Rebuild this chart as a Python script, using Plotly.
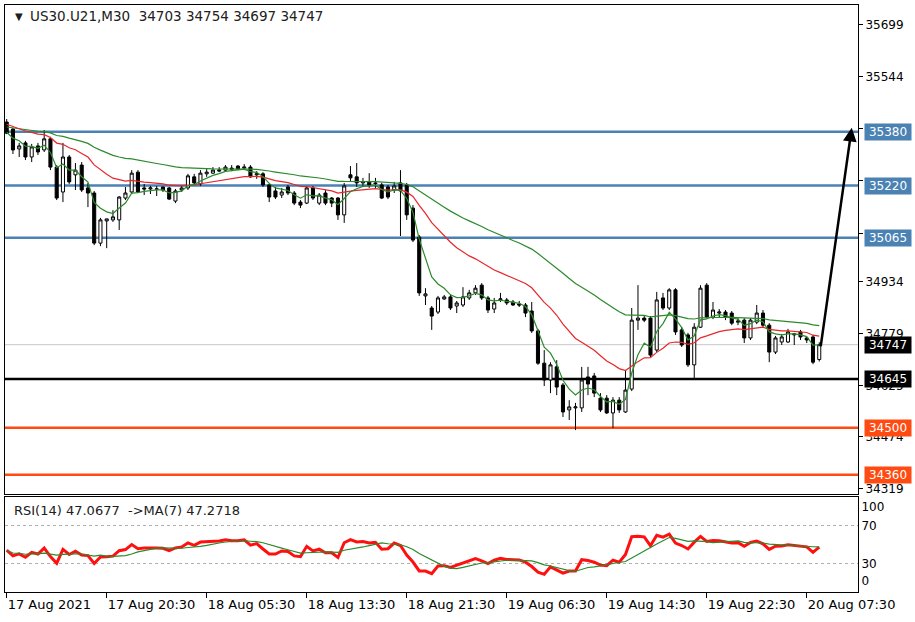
import plotly.graph_objects as go

# ---------------- data (US30.U21, M30) ----------------
opens = [35409,35388,35329,35347,35305,35338,35326,35359,35275,35201,
         35305,35252,35281,35213,35198,35049,35115,35118,35118,35183,
         35201,35260,35213,35210,35210,35216,35213,35174,35207,35213,
         35246,35225,35255,35257,35263,35266,35272,35278,35272,35275,
         35252,35255,35222,35204,35192,35216,35198,35171,35168,35213,
         35168,35198,35183,35183,35133,35252,35246,35228,35231,35228,
         35222,35216,35207,35228,35222,35153,35067,34892,34856,34844,
         34883,34889,34862,34865,34886,34901,34924,34886,34853,34880,
         34880,34874,34868,34865,34847,34788,34692,34642,34681,34627,
         34553,34559,34559,34651,34654,34588,34588,34544,34582,34547,
         34615,34820,34826,34826,34731,34886,34856,34910,34791,34776,
         34687,34799,34924,34829,34841,34844,34841,34814,34820,34767,
         34814,34841,34805,34725,34755,34755,34776,34785,34767,34770,
         34703]
highs = [35418,35391,35347,35353,35344,35347,35385,35365,35281,35347,
         35311,35287,35290,35228,35204,35124,35121,35147,35189,35216,
         35266,35266,35225,35219,35219,35216,35216,35210,35219,35255,
         35255,35266,35269,35275,35275,35281,35281,35281,35284,35281,
         35263,35260,35225,35216,35213,35222,35204,35177,35216,35219,
         35198,35207,35186,35186,35228,35278,35287,35243,35257,35243,
         35228,35222,35231,35266,35228,35162,35073,34915,34862,34892,
         34895,34895,34877,34918,34910,34924,34930,34892,34886,34901,
         34886,34880,34877,34871,34874,34794,34731,34695,34701,34633,
         34582,34574,34681,34681,34663,34603,34597,34591,34591,34672,
         34856,34924,34832,34832,34904,34901,34915,34915,34799,34782,
         34811,34924,34930,34874,34853,34850,34847,34826,34826,34826,
         34865,34850,34811,34773,34779,34794,34782,34791,34770,34776,
         34754]
lows = [35373,35314,35305,35296,35290,35311,35320,35266,35177,35171,
        35225,35207,35201,35156,35043,35040,35034,35112,35088,35177,
        35195,35198,35192,35195,35189,35201,35177,35168,35201,35207,
        35222,35219,35246,35255,35260,35263,35263,35266,35266,35243,
        35240,35216,35171,35180,35183,35192,35162,35153,35165,35177,
        35162,35162,35156,35118,35109,35231,35216,35216,35213,35213,
        35180,35180,35198,35070,35118,35052,34892,34865,34791,34838,
        34880,34850,34841,34859,34880,34895,34880,34841,34841,34874,
        34865,34862,34859,34829,34782,34687,34624,34603,34597,34532,
        34523,34493,34547,34597,34591,34547,34541,34499,34544,34544,
        34609,34791,34814,34710,34725,34850,34850,34776,34740,34681,
        34642,34797,34826,34823,34829,34820,34805,34805,34752,34761,
        34808,34799,34695,34719,34746,34752,34746,34761,34752,34689,
        34697]
closes = [35376,35326,35338,35305,35335,35320,35359,35275,35183,35305,
          35231,35266,35207,35198,35049,35118,35121,35127,35186,35198,
          35257,35201,35210,35213,35210,35207,35180,35204,35213,35249,
          35228,35257,35260,35266,35266,35275,35269,35269,35275,35246,
          35255,35222,35186,35186,35201,35198,35168,35162,35213,35183,
          35192,35168,35168,35133,35219,35243,35228,35231,35222,35226,
          35183,35186,35219,35204,35133,35058,34901,34898,34832,34886,
          34889,34856,34871,34889,34901,34915,34886,34850,34871,34883,
          34871,34865,34865,34841,34788,34692,34642,34687,34621,34547,
          34562,34562,34642,34630,34603,34553,34544,34582,34553,34612,
          34820,34826,34820,34716,34880,34856,34910,34785,34746,34687,
          34799,34915,34829,34850,34844,34829,34811,34817,34767,34820,
          34841,34805,34725,34767,34770,34785,34779,34770,34761,34695,
          34747]

time_ticks = [0, 16, 32, 48, 64, 80, 96, 112, 128]
time_labels = ["17 Aug 2021", "17 Aug 20:30", "18 Aug 05:30", "18 Aug 13:30",
               "18 Aug 21:30", "19 Aug 06:30", "19 Aug 14:30", "19 Aug 22:30",
               "20 Aug 07:30"]
price_ticks = [35699, 35544, 35389, 35234, 35079, 34934, 34779, 34625, 34474, 34319]
# labels fully hidden behind the level boxes in the reference
price_labels = ["35699", "35544", "", "", "", "34934", "34779", "34625", "34474", "34319"]

levels_blue = [35380, 35220, 35065]
level_black = [34645]
levels_red = [34500, 34360]
bid_price = 34747

# moving-average settings and their values at the first visible bar
ma_fast_period, ma_fast_start = 5, 35380
ma_mid_period, ma_mid_start = 21, 35405
ma_slow_period, ma_slow_start = 50, 35395
rsi_period, rsi_ma_period = 14, 7
rsi_seed_gain, rsi_seed_loss = 11.0, 14.0

idx = list(range(len(closes)))


def ema(vals, n, seed):
    a = 2.0 / (n + 1)
    e = seed
    out = []
    for v in vals:
        e = e + a * (v - e)
        out.append(e)
    return out


def rsi_calc(vals, n, ag, al):
    out = [100 - 100 / (1 + ag / al)]
    for i in range(1, len(vals)):
        ch = vals[i] - vals[i - 1]
        ag = (ag * (n - 1) + max(ch, 0)) / n
        al = (al * (n - 1) + max(-ch, 0)) / n
        out.append(100 - 100 / (1 + ag / al) if al > 0 else 100)
    return out


def sma(vals, n):
    out = []
    for i in range(len(vals)):
        w = vals[max(0, i - n + 1):i + 1]
        out.append(sum(w) / len(w))
    return out


ma_fast = ema(closes, ma_fast_period, ma_fast_start)
ma_mid = ema(closes, ma_mid_period, ma_mid_start)
ma_slow = ema(closes, ma_slow_period, ma_slow_start)
rsi = rsi_calc(closes, rsi_period, rsi_seed_gain, rsi_seed_loss)
rsi_ma = sma(rsi, rsi_ma_period)

FONT = "DejaVu Sans"
GREEN = "#2b8a2b"
RED = "#e8262a"

fig = go.Figure()
fig.add_trace(go.Candlestick(
    x=idx, open=opens, high=highs, low=lows, close=closes,
    increasing=dict(line=dict(color="black", width=1), fillcolor="white"),
    decreasing=dict(line=dict(color="black", width=1), fillcolor="black"),
    xaxis="x", yaxis="y", hoverinfo="skip"))
for vals, col in [(ma_slow, GREEN), (ma_mid, RED), (ma_fast, GREEN)]:
    fig.add_trace(go.Scatter(x=idx, y=vals, mode="lines",
                             line=dict(color=col, width=1.2),
                             xaxis="x", yaxis="y", hoverinfo="skip"))
fig.add_trace(go.Scatter(x=idx, y=rsi, mode="lines",
                         line=dict(color="#ff1010", width=3),
                         xaxis="x2", yaxis="y2", hoverinfo="skip"))
fig.add_trace(go.Scatter(x=idx, y=rsi_ma, mode="lines",
                         line=dict(color=GREEN, width=1.2),
                         xaxis="x2", yaxis="y2", hoverinfo="skip"))

shapes = []
for v in levels_blue:
    shapes.append(dict(type="line", xref="paper", x0=0, x1=1, yref="y", y0=v, y1=v,
                       line=dict(color="#4a82b4", width=2.5), layer="below"))
for v in level_black:
    shapes.append(dict(type="line", xref="paper", x0=0, x1=1, yref="y", y0=v, y1=v,
                       line=dict(color="black", width=2.5), layer="below"))
for v in levels_red:
    shapes.append(dict(type="line", xref="paper", x0=0, x1=1, yref="y", y0=v, y1=v,
                       line=dict(color="#ff4a12", width=2.5), layer="below"))
shapes.append(dict(type="line", xref="paper", x0=0, x1=1, yref="y", y0=bid_price, y1=bid_price,
                   line=dict(color="#c8c8c8", width=1), layer="below"))
for v in [70, 30]:
    shapes.append(dict(type="line", xref="paper", x0=0, x1=1, yref="y2", y0=v, y1=v,
                       line=dict(color="#b0b0b0", width=1, dash="dot"), layer="below"))

annotations = []


def box(v, bg):
    annotations.append(dict(xref="paper", x=1.0075, xanchor="left", yref="y", y=v,
                            yanchor="middle", text=str(v), showarrow=False,
                            font=dict(family=FONT, size=12, color="white"),
                            bgcolor=bg, borderpad=0, width=46, height=16))


for v in levels_blue:
    box(v, "#4a82b4")
box(bid_price, "black")
for v in level_black:
    box(v, "black")
for v in levels_red:
    box(v, "#ff4a12")

annotations.append(dict(xref="x", yref="y", x=135.2, y=35392, axref="x", ayref="y",
                        ax=130.2, ay=34738, showarrow=True, arrowhead=2, arrowsize=1.1,
                        arrowwidth=2.5, arrowcolor="black", text=""))
annotations.append(dict(xref="paper", yref="paper", x=0.009, y=0.981, xanchor="left",
                        yanchor="middle", text="▼", showarrow=False,
                        font=dict(family=FONT, size=10, color="#202020")))
annotations.append(dict(xref="paper", yref="paper", x=0.027, y=0.981, xanchor="left",
                        yanchor="middle", text="US30.U21,M30  34703 34754 34697 34747",
                        showarrow=False, font=dict(family=FONT, size=13.5, color="#202020")))
annotations.append(dict(xref="paper", yref="paper", x=0.008, y=0.138, xanchor="left",
                        yanchor="middle", text="RSI(14) 47.0677  ->MA(7) 47.2718",
                        showarrow=False, font=dict(family=FONT, size=13, color="#202020")))

xr = [-0.27, 136.2]
fig.update_layout(
    template="none",
    width=915, height=622,
    margin=dict(l=5, r=57, t=5, b=30, pad=0, autoexpand=False),
    paper_bgcolor="white", plot_bgcolor="white",
    showlegend=False, hovermode=False,
    font=dict(family=FONT, size=12, color="black"),
    shapes=shapes, annotations=annotations,
    xaxis=dict(domain=[0, 1], anchor="y", range=xr, showticklabels=False, ticks="",
               showgrid=False, zeroline=False, showline=True, mirror=True, automargin=False,
               linecolor="black", linewidth=1, rangeslider=dict(visible=False)),
    yaxis=dict(domain=[0.16695, 1], anchor="x", range=[34303, 35757], side="right",
               tickvals=price_ticks, ticktext=price_labels,
               ticks="outside", ticklen=4, tickcolor="black", automargin=False,
               showgrid=False, zeroline=False, showline=True, mirror=True,
               linecolor="black", linewidth=1,
               tickfont=dict(family=FONT, size=12, color="black")),
    xaxis2=dict(domain=[0, 1], anchor="y2", range=xr, tickvals=time_ticks,
                ticktext=time_labels, ticks="outside", ticklen=5, tickcolor="black",
                ticklabelposition="outside right", automargin=False,
                showgrid=False, zeroline=False, showline=True, mirror=True,
                linecolor="black", linewidth=1,
                tickfont=dict(family=FONT, size=13, color="black")),
    yaxis2=dict(domain=[0, 0.1618], anchor="x2", range=[0, 100], side="right",
                tickvals=[89.5, 70, 30, 11.5], ticktext=["100", "70", "30", "0"],
                ticks="", automargin=False,
                showgrid=False, zeroline=False, showline=True, mirror=True,
                linecolor="black", linewidth=1,
                tickfont=dict(family=FONT, size=12, color="black")),
)

fig.write_html("out.html", config={"displayModeBar": False},
               post_script="document.body.style.margin='0';document.body.style.padding='0';")
